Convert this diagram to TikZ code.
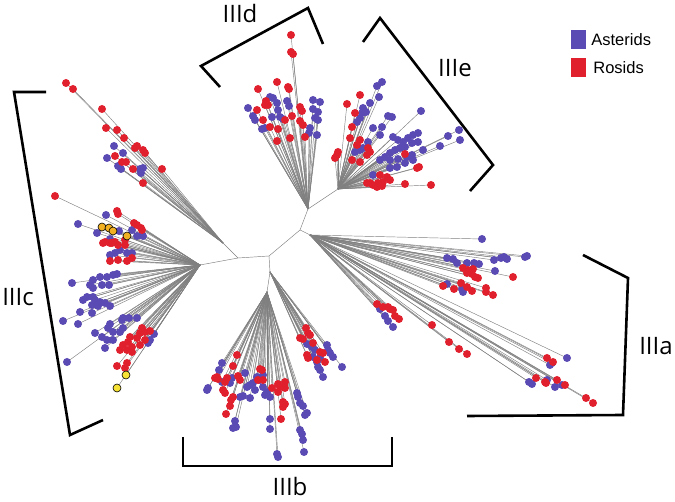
\documentclass[tikz,border=0pt]{standalone}
\usepackage{fontspec}
\setsansfont{Open Sans}
\newfontfamily\keyfont{Liberation Sans}
\usetikzlibrary{positioning}
\definecolor{astblue}{HTML}{5A4AB4}
\definecolor{rosred}{HTML}{E1202E}
\definecolor{leafgold}{HTML}{F2B023}
\definecolor{leafyellow}{HTML}{F6E235}
\tikzset{
  branch/.style={draw=black!50, line width=0.45pt},
  leaf/.style={circle, inner sep=0pt, minimum size=8pt},
  asterid/.style={leaf, fill=astblue},
  rosid/.style={leaf, fill=rosred},
  goldleaf/.style={leaf, fill=leafgold, draw=black, line width=0.6pt},
  yellowleaf/.style={leaf, fill=leafyellow, draw=black, line width=0.6pt},
  clade/.style={draw=black, line width=2.6pt},
  cladelabel/.style={font=\sffamily\fontsize{24}{26}\selectfont},
  keylabel/.style={font=\keyfont\fontsize{16.5}{18}\selectfont, inner sep=0pt},
}
% #1 hub, #2 prefix, #3 list of x/y
\newcommand\leafbranches[3]{%
  \foreach \x/\y [count=\i] in #3 {\coordinate (#2\i) at (\x,\y); \draw[branch] (#1) -- (#2\i);}}
% #1 style, #2 prefix, #3 list of x/y
\newcommand\leafdots[3]{%
  \foreach \x/\y [count=\i] in #3 {\node[#1] (#2dot\i) at (#2\i) {};}}

% leaf positions
\def\IIIdast{248/108, 270/97, 273/98, 277/103, 287/101, 289/106, 278/110,
  280/117, 253/116, 255/120, 262/129, 265/128, 313/100, 320/102, 313/109, 318/112, 315/118,
  318/120, 310/128, 309/133, 317/135, 272/117, 283/119}
\def\IIIdros{291/35, 291/52, 293/54, 277/82, 288/87, 289/89, 258/89, 257/110,
  266/101, 265/105, 268/105, 263/120, 270/127, 278/129, 285/120, 292/116, 300/107, 302/111,
  300/121, 303/125, 277/141, 290/138, 305/137}
\def\IIIeast{377/86, 382/82, 379/97, 370/103, 363/108, 362/113, 366/112,
  360/118, 357/122, 373/128, 382/127, 388/116, 392/117, 421/111, 380/135, 393/137, 398/140,
  403/142, 408/138, 413/135, 418/133, 418/142, 412/143, 405/147, 400/148, 395/150, 390/153,
  385/157, 380/160, 390/160, 398/159, 407/157, 413/160, 412/155, 405/163, 423/150, 440/146,
  448/136, 459/130, 460/140, 368/142, 363/148, 360/150, 355/152, 390/168, 397/167, 373/175}
\def\IIIeros{360/95, 347/104, 355/113, 352/127, 350/138, 360/140, 357/145,
  368/148, 370/152, 367/155, 338/152, 337/155, 335/158, 352/160, 360/162, 405/154, 417/168,
  419/167, 380/175, 387/177, 367/183, 373/185, 378/183, 383/182, 390/180, 405/184, 431/185,
  377/187, 382/186, 370/183}
\def\IIIaast{482/239, 447/258, 453/259, 457/263, 467/263, 474/263, 479/264,
  494/260, 501/258, 504/257, 507/259, 525/257, 527/256, 495/271, 447/284, 462/289, 463/292,
  380/309, 385/316, 388/321, 393/327, 567/358, 552/363, 550/365, 529/382, 532/384, 547/380,
  555/387, 562/385}
\def\IIIaros{463/268, 468/270, 473/269, 467/273, 472/274, 475/277, 478/278,
  513/277, 443/286, 454/289, 461/283, 467/287, 472/291, 486/288, 486/292, 493/295, 377/304,
  383/307, 388/307, 390/309, 393/310, 395/316, 399/319, 432/325, 449/342, 459/349, 467/354,
  547/358, 553/362, 536/378, 545/382, 546/383, 557/380, 565/385, 586/398, 593/403}
\def\IIIbrast{307/344, 312/347, 315/350, 327/345, 328/350, 330/353, 333/357,
  320/358, 317/362, 318/367, 320/370, 323/377, 342/367, 313/357}
\def\IIIbrros{306/328, 308/333, 310/335, 300/338, 303/339, 313/343, 307/355,
  308/358, 320/352, 323/353, 325/362, 317/360}
\def\IIIblast{222/363, 219/370, 207/390, 208/388, 222/382, 230/383, 232/378,
  245/373, 247/387, 250/385, 253/383, 257/377, 260/380, 263/375, 240/397, 243/396, 250/398,
  255/390, 263/387, 267/392, 270/397, 265/395, 297/393, 298/397, 300/403, 303/406, 305/415,
  307/413, 235/421, 233/428, 236/427, 270/419, 270/429, 300/430, 302/434, 303/440, 304/452,
  277/454, 278/457}
\def\IIIblros{237/355, 233/366, 217/377, 218/379, 215/378, 227/378, 225/382,
  238/376, 240/380, 223/390, 225/393, 233/397, 231/400, 230/406, 226/414, 260/369, 262/370,
  258/380, 263/380, 272/388, 278/384, 280/387, 285/382, 285/388, 278/392, 283/402, 283/407,
  285/404, 281/419}
\def\IIIcuast{114/146, 123/153, 107/158, 118/166, 121/169, 140/169, 143/168, 141/173}
\def\IIIcuros{66/83, 73/89, 102/109, 106/128, 117/130, 124/138, 135/148,
  137/146, 143/150, 145/153, 115/156, 122/162, 126/162, 133/169, 162/169, 143/183}
\def\IIIclast{106/215, 78/224, 97/233, 119/231, 132/230, 143/236, 110/239,
  137/236, 120/250, 115/253, 127/253, 132/253, 110/255, 117/274, 113/275, 107/277, 100/277,
  93/280, 72/283, 90/285, 93/288, 102/285, 109/285, 87/297, 83/300, 93/297, 95/300, 92/305,
  100/302, 105/303, 110/306, 98/306, 80/312, 92/313, 63/321, 78/324, 123/318, 122/320,
  129/318, 137/318, 110/324, 108/328, 113/332, 120/332, 123/328, 95/333, 102/337, 107/340,
  113/340, 105/348, 67/362, 148/343, 150/340, 154/334}
\def\IIIclros{55/196, 117/211, 118/214, 134/223, 137/225, 141/228, 142/230,
  105/242, 112/243, 125/240, 118/245, 103/243, 110/243, 115/242, 125/245, 110/261, 118/260,
  127/261, 132/258, 142/328, 140/333, 145/332, 150/331, 130/337, 137/338, 128/342, 123/345,
  132/347, 127/350, 120/350, 132/352, 140/345, 145/340, 127/363, 125/368, 117/366}
\def\IIIclgold{102/227, 109/228, 113/231, 127/236}
\def\IIIclyellow{126/375, 117/388}

\begin{document}
\begin{tikzpicture}[x=1pt, y=-1pt]
  \useasboundingbox (0,0) rectangle (675,502);

  % inner nodes of the tree
  \coordinate (nDE) at (308,209);
  \coordinate (nIIIe) at (338,189);
  \coordinate (nA) at (300,230);
  \coordinate (nIIIa) at (310,235);
  \coordinate (nB) at (269,256);
  \coordinate (nIIIb) at (270,272);
  \coordinate (nIIIbl) at (267,292);
  \coordinate (nD) at (238,258);
  \coordinate (nIIIc) at (200,265);
  \coordinate (nIIIcu) at (223,243);

  \draw[branch] (nIIIe) -- (nDE) -- (nA) -- (nB) -- (nD) -- (nIIIc);
  \draw[branch] (nA) -- (nIIIa);
  \draw[branch] (nB) -- (nIIIb) -- (nIIIbl);
  \draw[branch] (nD) -- (nIIIcu);

  % branches
  \leafbranches{nDE}{dA}{\IIIdast}
  \leafbranches{nDE}{dR}{\IIIdros}
  \leafbranches{nIIIe}{eA}{\IIIeast}
  \leafbranches{nIIIe}{eR}{\IIIeros}
  \leafbranches{nIIIa}{aA}{\IIIaast}
  \leafbranches{nIIIa}{aR}{\IIIaros}
  \leafbranches{nIIIb}{brA}{\IIIbrast}
  \leafbranches{nIIIb}{brR}{\IIIbrros}
  \leafbranches{nIIIbl}{blA}{\IIIblast}
  \leafbranches{nIIIbl}{blR}{\IIIblros}
  \leafbranches{nIIIcu}{cuA}{\IIIcuast}
  \leafbranches{nIIIcu}{cuR}{\IIIcuros}
  \leafbranches{nIIIc}{clA}{\IIIclast}
  \leafbranches{nIIIc}{clR}{\IIIclros}
  \leafbranches{nIIIc}{clG}{\IIIclgold}
  \leafbranches{nIIIc}{clY}{\IIIclyellow}

  % leaves
  \leafdots{asterid}{dA}{\IIIdast}
  \leafdots{rosid}{dR}{\IIIdros}
  \leafdots{asterid}{eA}{\IIIeast}
  \leafdots{rosid}{eR}{\IIIeros}
  \leafdots{asterid}{aA}{\IIIaast}
  \leafdots{rosid}{aR}{\IIIaros}
  \leafdots{asterid}{brA}{\IIIbrast}
  \leafdots{rosid}{brR}{\IIIbrros}
  \leafdots{asterid}{blA}{\IIIblast}
  \leafdots{rosid}{blR}{\IIIblros}
  \leafdots{asterid}{cuA}{\IIIcuast}
  \leafdots{rosid}{cuR}{\IIIcuros}
  \leafdots{asterid}{clA}{\IIIclast}
  \leafdots{rosid}{clR}{\IIIclros}
  \leafdots{goldleaf}{clG}{\IIIclgold}
  \leafdots{yellowleaf}{clY}{\IIIclyellow}

  % clade brackets
  \draw[clade] (220,87) -- (201,66) -- (308,8) -- (323,44);
  \draw[clade] (363,42) -- (380,18) -- (493,165) -- (470,191);
  \draw[clade] (583,255) -- (628,278) -- (623,415) -- (467,416);
  \draw[clade] (183,437) -- (183,466) -- (392,466) -- (392,437);
  \draw[clade] (46,92) -- (14,92) -- (70,435) -- (103,420);

  \node[cladelabel] (labIIId) at (240,14) {IIId};
  \node[cladelabel] (labIIIe) at (455,68) {IIIe};
  \node[cladelabel] (labIIIa) at (656,346) {IIIa};
  \node[cladelabel] (labIIIb) at (290,486) {IIIb};
  \node[cladelabel] (labIIIc) at (18,297) {IIIc};

  % key
  \node[fill=astblue, minimum width=15pt, minimum height=19pt, inner sep=0pt] (keyast) at (578.5,39.5) {};
  \node[fill=rosred, minimum width=15pt, minimum height=19pt, inner sep=0pt] (keyros) at (578.5,67.5) {};
  \node[keylabel, right=5pt of keyast] (keyasttext) {Asterids};
  \node[keylabel, right=7pt of keyros] (keyrostext) {Rosids};
\end{tikzpicture}
\end{document}
